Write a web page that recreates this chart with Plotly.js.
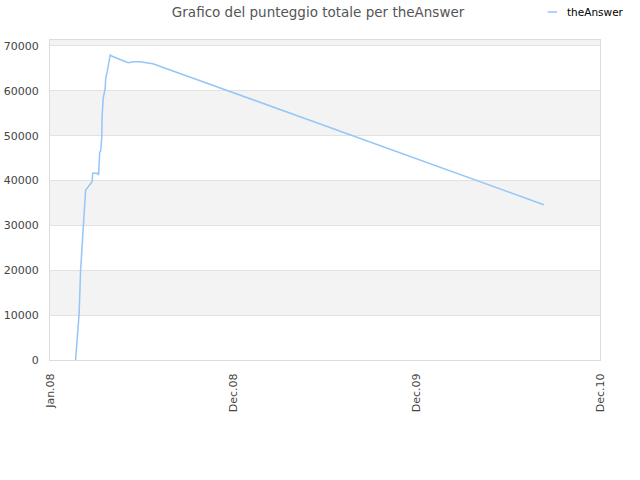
<!DOCTYPE html>
<html>
<head>
<meta charset="utf-8">
<script src="https://cdn.plot.ly/plotly-3.0.1.min.js"></script>
<style>
  html, body { margin: 0; padding: 0; background: #fff; }
  #chart { width: 640px; height: 480px; }
</style>
</head>
<body>
<div id="chart"></div>
<script>
// score history of theAnswer
const dates = [
  '2008-01-21', '2008-01-23', '2008-01-28', '2008-01-31', '2008-02-05',
  '2008-02-08', '2008-02-10', '2008-02-23', '2008-02-24', '2008-03-05',
  '2008-03-06', '2008-03-07', '2008-03-09', '2008-03-11', '2008-03-12',
  '2008-03-13', '2008-03-14', '2008-03-16', '2008-03-20', '2008-03-21',
  '2008-03-24', '2008-03-26', '2008-03-30', '2008-04-02', '2008-04-09',
  '2008-04-21', '2008-05-05', '2008-05-15', '2008-05-28', '2008-06-17',
  '2008-06-23', '2010-08-11'
];
const scores = [
  0, 2970, 10330, 20060, 29720,
  35660, 37890, 39740, 41600, 41600,
  41240, 41500, 46290, 46580, 48650,
  49410, 54610, 58330, 60560, 62790,
  64260, 65380, 67990, 67760, 67390,
  66870, 66270, 66500, 66500, 66270,
  66050, 34620
];

const seriesName = 'theAnswer';
const chartTitle = 'Grafico del punteggio totale per theAnswer';

const xTickVals = ['2007-12-01', '2008-12-01', '2009-12-01', '2010-12-01'];
const xTickText = ['Jan.08', 'Dec.08', 'Dec.09', 'Dec.10'];
const yMax = 71330;
// shaded horizontal bands [from, to]
const bands = [[10000, 20000], [30000, 40000], [50000, 60000], [70000, yMax]];

const COLORS = {
  line:  '#94c6f7',
  band:  '#f3f3f3',
  grid:  '#e2e2e2',
  axis:  '#dcdcdc',
  text:  '#444',
  title: '#555',
};

const trace = {
  x: dates,
  y: scores,
  type: 'scatter',
  mode: 'lines',
  name: seriesName,
  line: { color: COLORS.line, width: 1.5 },
  showlegend: false,
};

// Plotly's own legend pushes the plot margins, so draw a small one by hand
const legendY = 1.0875;
const legendShapes = [{
  type: 'line', xref: 'paper', yref: 'paper',
  x0: 0.905, x1: 0.922, y0: legendY, y1: legendY,
  line: { color: COLORS.line, width: 1.5 },
}];
const legendLabels = [{
  xref: 'paper', yref: 'paper',
  x: 0.936, y: legendY, xanchor: 'left', yanchor: 'middle',
  text: seriesName, showarrow: false,
  font: { size: 10.5, color: '#000' },
}];

const layout = {
  width: 640,
  height: 480,
  margin: { l: 50, r: 40, t: 40, b: 120 },
  paper_bgcolor: '#fff',
  plot_bgcolor: '#fff',
  font: { family: 'DejaVu Sans, sans-serif', size: 11, color: COLORS.text },
  title: {
    text: chartTitle,
    font: { size: 13.5, color: COLORS.title },
    x: 0.497, xanchor: 'center',
    y: 0.975, yanchor: 'middle',
  },
  showlegend: false,
  xaxis: {
    type: 'date',
    range: [xTickVals[0], xTickVals[xTickVals.length - 1]],
    tickmode: 'array',
    tickvals: xTickVals,
    ticktext: xTickText,
    tickangle: -90,
    ticks: 'outside', ticklen: 8, tickcolor: 'rgba(0,0,0,0)',
    showgrid: false,
    zeroline: false,
    showline: true, mirror: true, linecolor: COLORS.axis, linewidth: 1,
    tickfont: { size: 11, color: COLORS.text },
  },
  yaxis: {
    range: [0, yMax],
    tickmode: 'linear', tick0: 0, dtick: 10000,
    tickformat: 'd',
    ticks: 'outside', ticklen: 8, tickcolor: 'rgba(0,0,0,0)',
    showgrid: true, gridcolor: COLORS.grid,
    zeroline: false,
    showline: true, mirror: true, linecolor: COLORS.axis, linewidth: 1,
    tickfont: { size: 11, color: COLORS.text },
  },
  shapes: bands.map(([y0, y1]) => ({
    type: 'rect', layer: 'below',
    xref: 'paper', x0: 0, x1: 1,
    yref: 'y', y0, y1,
    fillcolor: COLORS.band,
    line: { width: 0 },
  })).concat(legendShapes),
  annotations: legendLabels,
};

Plotly.newPlot('chart', [trace], layout, { displayModeBar: false, staticPlot: true });
</script>
</body>
</html>
